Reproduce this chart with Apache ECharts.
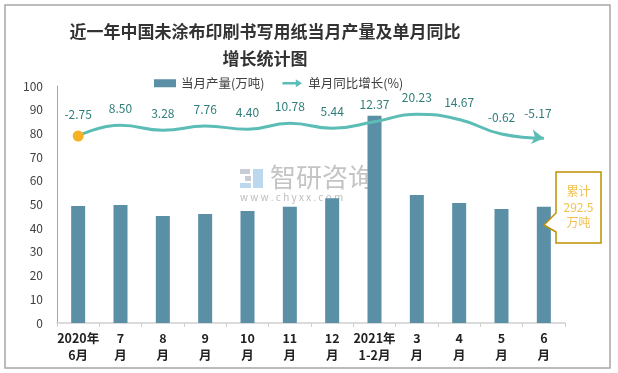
<!DOCTYPE html>
<html>
<head>
<meta charset="utf-8">
<script src="https://cdn.jsdelivr.net/npm/echarts@6/dist/echarts.min.js"></script>
<style>
html,body{margin:0;padding:0;background:#fff;}
#c{width:618px;height:373px;}
</style>
</head>
<body>
<div id="c"></div>
<script>
const categories = ['2020年\n6月','7\n月','8\n月','9\n月','10\n月','11\n月','12\n月','2021年\n1-2月','3\n月','4\n月','5\n月','6\n月'];
const outputValues = [49.4, 49.8, 45.1, 46.0, 47.3, 49.0, 52.6, 87.5, 54.0, 50.6, 48.1, 49.0];
const growthValues = [-2.75, 8.50, 3.28, 7.76, 4.40, 10.78, 5.44, 12.37, 20.23, 14.67, -0.62, -5.17];
const seriesNames = ['当月产量(万吨)', '单月同比增长(%)'];
const titleText = '近一年中国未涂布印刷书写用纸当月产量及单月同比\n增长统计图';
const calloutText = '累计\n292.5\n万吨';

const FONT = '"Noto Sans CJK SC", "Noto Sans", sans-serif';
const chart = echarts.init(document.getElementById('c'), null, {renderer: 'canvas'});

const lineData = growthValues.map((v, i) => {
  if (i === 0) {
    return {value: v, symbol: 'circle', symbolSize: 11, itemStyle: {color: '#f5b324', borderWidth: 0}};
  }
  if (i === growthValues.length - 1) {
    return {value: v, symbol: 'arrow', symbolSize: [11, 12], symbolRotate: -97, itemStyle: {color: '#5bbdb5'}};
  }
  return {value: v, symbol: 'circle', symbolSize: 2, itemStyle: {color: 'rgba(0,0,0,0)', borderWidth: 0}};
});

const option = {
  backgroundColor: '#fff',
  animation: false,
  textStyle: {fontFamily: FONT},
  title: {
    text: titleText,
    left: 260, top: 13, textAlign: 'center',
    textStyle: {fontSize: 17, fontWeight: 'bold', color: '#333', lineHeight: 27, fontFamily: FONT}
  },
  legend: {
    left: 149, top: 72,
    itemGap: 18, itemWidth: 22, itemHeight: 8,
    textStyle: {fontSize: 12.5, color: '#404040', fontFamily: FONT},
    data: [
      {name: seriesNames[0], icon: 'rect'},
      {name: seriesNames[1], icon: 'path://M0,3 L15,3 L15,0 L22,4.5 L15,9 L15,6 L0,6 Z', itemStyle: {color: '#5bbdb5'}}
    ]
  },
  grid: {left: 57, right: 53, top: 86, bottom: 50, containLabel: false},
  xAxis: {
    type: 'category',
    data: categories,
    axisLine: {lineStyle: {color: '#d0d0d0', width: 1.5}},
    axisTick: {show: true, length: 4, lineStyle: {color: '#d0d0d0'}},
    axisLabel: {interval: 0, fontSize: 12.5, fontWeight: 'bold', color: '#222', lineHeight: 17, margin: 7, fontFamily: FONT}
  },
  yAxis: [
    {
      type: 'value', min: 0, max: 100, interval: 10,
      axisLine: {show: true, lineStyle: {color: '#a6a6a6', width: 1}},
      axisTick: {show: false},
      splitLine: {show: false},
      axisLabel: {fontSize: 12, color: '#404040', margin: 14, fontFamily: FONT}
    },
    {
      type: 'value', min: -200, max: 50,
      show: false, splitLine: {show: false}
    }
  ],
  series: [
    {
      name: seriesNames[0], type: 'bar', data: outputValues,
      barWidth: 14, itemStyle: {color: '#5b8fa6'}, z: 3
    },
    {
      name: seriesNames[1], type: 'line', yAxisIndex: 1, data: lineData,
      smooth: 0.5, showSymbol: true,
      lineStyle: {color: '#5bbdb5', width: 3},
      itemStyle: {color: '#5bbdb5'},
      label: {
        show: true, position: 'top', distance: 10,
        color: '#2e7d7a', fontSize: 12, fontFamily: FONT,
        formatter: p => Number(p.value).toFixed(2)
      },
      z: 5
    }
  ],
  graphic: [
    {type: 'rect', shape: {x: 5, y: 5, width: 605, height: 363}, style: {fill: 'none', stroke: '#a6a6a6', lineWidth: 1.5}, z: 0, silent: true},
    // watermark logo
    {type: 'rect', shape: {x: 240, y: 169, width: 10, height: 5}, style: {fill: '#c9ccd4'}, z: 1, silent: true},
    {type: 'rect', shape: {x: 245, y: 176, width: 6, height: 5}, style: {fill: '#c9ccd4'}, z: 1, silent: true},
    {type: 'rect', shape: {x: 240, y: 183, width: 11, height: 5}, style: {fill: '#bcd8ee'}, z: 1, silent: true},
    {type: 'rect', shape: {x: 253, y: 169, width: 10, height: 19}, style: {fill: '#bcd8ee'}, z: 1, silent: true},
    {type: 'text', left: 270, top: 164, style: {text: '智研咨询', fontSize: 26, fill: '#c4c4c4', fontFamily: FONT}, z: 1, silent: true},
    {type: 'text', left: 240, top: 192, style: {text: 'w w w . c h y x x . c o m', fontSize: 10, fill: '#bdbdbd', fontFamily: FONT}, z: 1, silent: true},
    // callout
    {type: 'polygon', shape: {points: [[556,172],[601,172],[601,243],[556,243],[556,232],[544,225],[556,213]]},
     style: {fill: '#fff', stroke: '#bf9000', lineWidth: 1.5}, z: 10, silent: true},
    {type: 'text', x: 578.5, y: 207, style: {text: calloutText, fontSize: 12, lineHeight: 15.5, fill: '#f2c14e', align: 'center', verticalAlign: 'middle', fontFamily: FONT}, z: 11, silent: true}
  ]
};
chart.setOption(option);
</script>
</body>
</html>
